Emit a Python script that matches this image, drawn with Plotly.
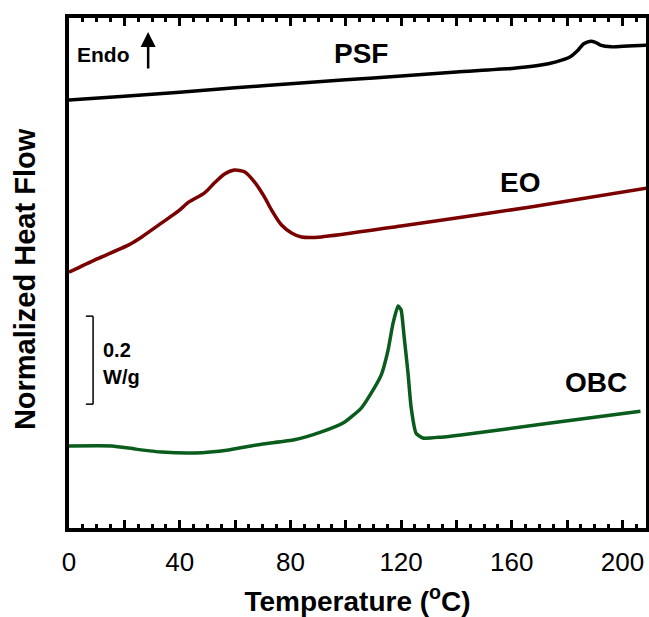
import plotly.graph_objects as go

# Temperature (°C) and normalized heat flow (W/g, vertically offset)
psf_t = [0, 20, 40, 60, 80, 100, 120, 140, 160, 170, 176, 181, 184, 186, 188.5, 190, 192, 196, 202, 209]
psf_y = [0.977, 0.986, 0.995, 1.005, 1.014, 1.023, 1.032, 1.041, 1.049, 1.056, 1.064, 1.075, 1.091,
         1.105, 1.111, 1.109, 1.102, 1.098, 1.100, 1.102]

eo_t = [0, 9.4, 21.6, 26.3, 33.5, 39.6, 43.2, 49, 52.6, 56.2, 59.8, 63.4, 67, 70.6, 73.2, 76.8,
        80.4, 84, 91.2, 120, 166.8, 209]
eo_y = [0.586, 0.614, 0.648, 0.666, 0.698, 0.725, 0.745, 0.766, 0.789, 0.809, 0.818, 0.814, 0.791,
        0.757, 0.727, 0.693, 0.675, 0.666, 0.666, 0.691, 0.734, 0.777]

obc_t = [0, 15.5, 23.8, 33.5, 45.4, 57.7, 69.5, 81.4, 91.2, 99.5, 105.6, 109.2, 112.8, 115.3, 117.1,
         118.9, 120, 121.1, 122.5, 123.6, 125.4, 127.9, 134.4, 141.6, 174, 206.5]
obc_y = [0.191, 0.191, 0.184, 0.177, 0.175, 0.182, 0.195, 0.205, 0.223, 0.245, 0.277, 0.311, 0.352,
         0.409, 0.470, 0.509, 0.500, 0.439, 0.357, 0.280, 0.220, 0.209, 0.211, 0.216, 0.243, 0.270]

x_label_ticks = [0, 40, 80, 120, 160, 200]
x_major_step = 20
x_minor_step = 5

scale_bar = 0.2  # W/g

FONT = "Liberation Sans, Arial, sans-serif"

fig = go.Figure()
fig.add_trace(go.Scatter(x=psf_t, y=psf_y, mode="lines", line=dict(color="#000000", width=3.5, shape="spline", smoothing=0.6), name="PSF"))
fig.add_trace(go.Scatter(x=eo_t, y=eo_y, mode="lines", line=dict(color="#7a0000", width=3.5, shape="spline", smoothing=0.6), name="EO"))
fig.add_trace(go.Scatter(x=obc_t, y=obc_y, mode="lines", line=dict(color="#0a5c1c", width=3.5, shape="spline", smoothing=0.5), name="OBC"))
# helper trace so the secondary (major-tick) axis is drawn
fig.add_trace(go.Scatter(x=[None], y=[None], xaxis="x2", mode="lines", hoverinfo="skip", showlegend=False))

# scale bar
sb_x = 8.7
sb_y0 = 0.286
fig.add_shape(type="line", xref="x", yref="y", x0=sb_x, x1=sb_x, y0=sb_y0, y1=sb_y0 + scale_bar, line=dict(color="black", width=1.5))
fig.add_shape(type="line", xref="x", yref="y", x0=sb_x - 2.6, x1=sb_x, y0=sb_y0, y1=sb_y0, line=dict(color="black", width=1.5))
fig.add_shape(type="line", xref="x", yref="y", x0=sb_x - 2.6, x1=sb_x, y0=sb_y0 + scale_bar, y1=sb_y0 + scale_bar, line=dict(color="black", width=1.5))

ann_font = dict(family=FONT, size=28, color="black")
fig.add_annotation(x=105.5, y=1.084, text="<b>PSF</b>", showarrow=False, font=ann_font)
fig.add_annotation(x=163.0, y=0.789, text="<b>EO</b>", showarrow=False, font=ann_font)
fig.add_annotation(x=190.5, y=0.336, text="<b>OBC</b>", showarrow=False, font=ann_font)
fig.add_annotation(x=11.4, y=0.409, text="<b>0.2</b>", showarrow=False, xanchor="left", font=dict(family=FONT, size=20, color="black"))
fig.add_annotation(x=11.4, y=0.348, text="<b>W/g</b>", showarrow=False, xanchor="left", font=dict(family=FONT, size=20, color="black"))
fig.add_annotation(x=12.6, y=1.08, text="<b>Endo</b>", showarrow=False, font=dict(family=FONT, size=21, color="black"))
fig.add_annotation(x=28.6, y=1.132, ax=0, ay=38, text="", showarrow=True, arrowhead=2, arrowsize=1.2, arrowwidth=2.5, arrowcolor="black")

fig.add_annotation(xref="paper", yref="paper", x=0, y=0.488, xshift=-44, xanchor="center", yanchor="middle",
                   text="<b>Normalized Heat Flow</b>",
                   textangle=-90, showarrow=False, font=dict(family=FONT, size=29, color="black"))

fig.update_layout(
    width=649, height=617,
    margin=dict(l=69, r=3, t=18, b=89),
    plot_bgcolor="white", paper_bgcolor="white",
    showlegend=False,
    font=dict(family=FONT, color="black"),
    xaxis=dict(
        range=[0, 208.5], showgrid=False, zeroline=False, automargin=False,
        showline=True, linewidth=4, linecolor="black", mirror="ticks",
        tickmode="array", tickvals=x_label_ticks,
        ticks="inside", ticklen=8, tickwidth=2.5, tickcolor="black",
        ticklabelstandoff=8,
        minor=dict(dtick=x_minor_step, tick0=0, ticks="inside", ticklen=4, tickwidth=2.5, tickcolor="black", showgrid=False),
        tickfont=dict(family=FONT, size=26, color="black"),
        title=dict(text="<b>Temperature (<sup>o</sup>C)</b>", font=dict(family=FONT, size=28, color="black"), standoff=16),
    ),
    xaxis2=dict(
        overlaying="x", matches="x", side="bottom", anchor="y",
        showgrid=False, zeroline=False, automargin=False, showline=False,
        tickmode="linear", tick0=0, dtick=x_major_step, mirror="ticks",
        ticks="inside", ticklen=8, tickwidth=2.5, tickcolor="black",
        showticklabels=False,
    ),
    yaxis=dict(
        range=[0.0045, 1.1636], showgrid=False, zeroline=False, automargin=False,
        showline=True, linewidth=4, linecolor="black", mirror=True,
        ticks="", showticklabels=False,
    ),
)

fig.write_html(
    "out.html",
    config={"displayModeBar": False},
    post_script="document.body.style.margin='0';document.documentElement.style.overflow='hidden';document.body.style.overflow='hidden';",
)
